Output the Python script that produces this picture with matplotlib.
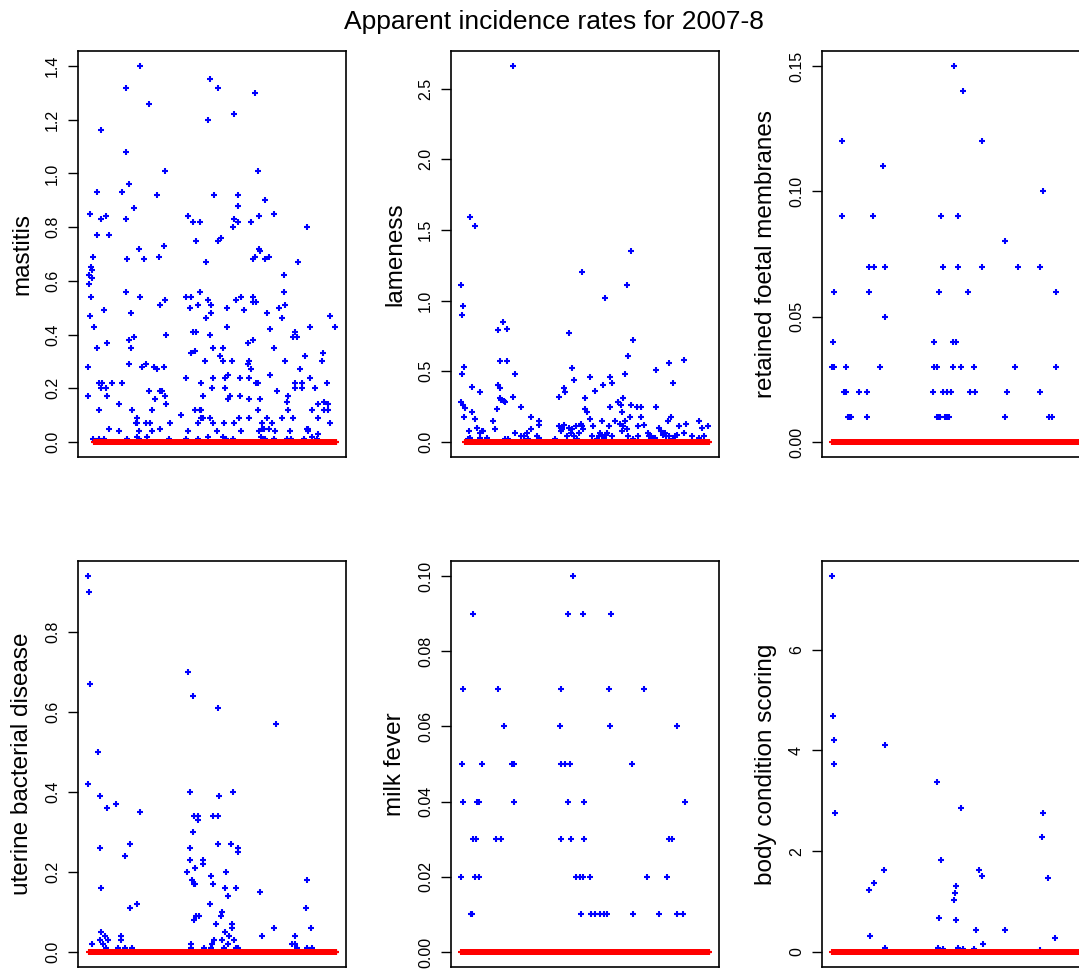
import matplotlib
matplotlib.use("Agg")
import matplotlib.pyplot as plt

plt.rcParams['font.family'] = ['Liberation Sans', 'DejaVu Sans']

# number of herds and (herd, rate) for every non-zero rate; all other herds are 0
n_herds = 500

mastitis = [
    (1, .28), (2, .17), (3, .62), (4, .59), (5, .47), (6, .85), (7, .65), (8, .54), (9, .64), (10, .61),
    (11, .01), (12, .69), (13, .43), (20, .93), (20, .77), (20, .35), (24, .22), (24, .12), (24, .01),
    (27, 1.16), (27, .83), (27, .20), (30, .22), (34, .49), (34, .01), (37, .84), (37, .20), (40, .37),
    (40, .17), (44, .77), (44, .05), (50, .22), (64, .14), (64, .04), (70, .93), (70, .22), (78, 1.32),
    (78, 1.08), (78, .83), (78, .56), (80, .68), (80, .01), (84, .96), (84, .38), (84, .29), (87, .48),
    (87, .35), (90, .12), (94, .87), (94, .39), (97, .07), (100, .09), (100, .07), (100, .02),
    (104, .72), (104, .04), (104, .01), (106, 1.40), (106, .54), (110, .28), (114, .68), (117, .29),
    (117, .07), (120, .02), (123, 1.26), (124, .19), (126, .07), (130, .12), (130, .04), (133, .28),
    (136, .16), (140, .92), (140, .27), (143, .69), (146, .51), (146, .19), (146, .05), (150, .19),
    (153, .73), (153, .28), (156, 1.01), (156, .53), (156, .17), (159, .40), (159, .14), (164, .01),
    (166, .07), (189, .10), (198, .54), (199, .24), (199, .01), (202, .84), (202, .04), (206, .50),
    (208, .54), (208, .33), (212, .82), (212, .41), (216, .34), (216, .12), (219, .75), (219, .41),
    (222, .51), (222, .07), (222, .01), (226, .82), (226, .56), (226, .12), (229, .22), (229, .12),
    (229, .09), (232, .17), (232, .09), (236, .30), (239, .67), (239, .46), (242, 1.20), (242, .53),
    (242, .02), (246, 1.35), (246, .40), (246, .09), (249, .51), (249, .48), (250, .20), (252, .35),
    (252, .24), (252, .07), (255, .92), (260, .04), (262, 1.32), (262, .75), (266, .32), (269, .76),
    (272, .35), (272, .30), (272, .02), (275, .07), (276, .24), (276, .20), (279, .01), (280, .50),
    (280, .43), (282, .25), (282, .16), (286, .17), (290, .30), (292, .80), (292, .01), (295, 1.22),
    (295, .83), (295, .07), (298, .53), (302, .92), (302, .88), (302, .82), (305, .09), (306, .24),
    (306, .17), (308, .54), (308, .04), (315, .49), (322, .37), (322, .29), (325, .30), (325, .24),
    (325, .16), (325, .09), (328, .82), (328, .27), (332, .68), (332, .54), (332, .52), (332, .38),
    (336, 1.30), (336, .69), (338, .52), (338, .22), (342, 1.01), (342, .22), (342, .12), (345, .84),
    (345, .72), (345, .04), (347, .71), (348, .16), (349, .02), (352, .07), (352, .05), (355, .05),
    (358, .90), (358, .68), (358, .01), (362, .48), (362, .09), (365, .69), (365, .05), (367, .25),
    (368, .42), (372, .07), (375, .85), (375, .35), (375, .01), (378, .04), (382, .19), (385, .50),
    (392, .46), (392, .09), (395, .62), (395, .56), (398, .51), (398, .30), (402, .15), (402, .01),
    (404, .17), (404, .12), (408, .04), (410, .01), (414, .39), (414, .09), (418, .41), (418, .22),
    (418, .20), (422, .39), (424, .67), (428, .27), (432, .22), (432, .20), (435, .01), (438, .32),
    (441, .80), (442, .05), (444, .05), (444, .04), (448, .43), (448, .24), (452, .12), (452, .02),
    (457, .20), (462, .01), (464, .14), (464, .09), (464, .03), (471, .30), (474, .33), (476, .15),
    (476, .12), (482, .22), (483, .14), (483, .12), (487, .47), (488, .07), (497, .43),
]

lameness = [
    (1, .28), (2, 1.11), (3, .90), (4, .48), (5, .96), (6, .26), (7, .18), (8, .53), (9, .24),
    (16, .02), (17, .08), (19, 1.59), (19, .03), (23, .39), (23, .21), (29, 1.53), (29, .16), (33, .10),
    (39, .35), (39, .03), (40, .06), (43, .08), (45, .08), (53, .03), (65, .15), (69, .09), (73, .23),
    (75, .79), (75, .40), (79, .57), (79, .38), (79, .31), (82, .30), (85, .85), (87, .29), (89, .28),
    (89, .02), (93, .80), (93, .57), (96, .02), (105, 2.66), (105, .32), (109, .48), (109, .06),
    (122, .25), (122, .04), (127, .04), (133, .06), (135, .02), (141, .18), (141, .09), (154, .04),
    (157, .03), (158, .15), (158, .12), (191, .02), (198, .32), (198, .11), (202, .10), (202, .08),
    (205, .09), (209, .38), (209, .12), (211, .35), (215, .04), (219, .77), (219, .10), (222, .06),
    (224, .52), (225, .09), (229, .44), (229, .04), (233, .11), (235, .02), (239, .06), (243, .13),
    (245, 1.20), (245, .11), (247, .09), (251, .31), (251, .23), (254, .21), (261, .46), (261, .16),
    (264, .04), (267, .11), (271, .36), (275, .02), (279, .04), (281, .06), (285, .15), (285, .04),
    (287, .40), (289, .03), (290, 1.02), (293, .05), (295, .06), (299, .11), (301, .46), (301, .25),
    (305, .42), (305, .04), (310, .15), (317, .28), (321, .13), (323, .26), (324, .21), (325, .08),
    (327, .31), (327, .11), (331, .48), (331, .15), (335, 1.11), (335, .09), (337, .61), (337, .04),
    (340, .18), (343, 1.35), (343, .26), (347, .72), (348, .02), (355, .25), (357, .11), (357, .04),
    (363, .25), (363, .18), (370, .12), (377, .06), (380, .04), (383, .04), (391, .03), (393, .51),
    (393, .25), (400, .10), (404, .08), (407, .05), (411, .06), (413, .04), (417, .15), (420, .56),
    (420, .04), (423, .18), (427, .42), (427, .02), (432, .04), (436, .05), (439, .11), (449, .58),
    (449, .06), (453, .13), (466, .04), (479, .15), (479, .03), (486, .10), (490, .04), (497, .11),
]

retained = [
    (2, .03), (3, .04), (6, .06), (6, .03), (22, .12), (22, .09), (26, .02), (30, .03), (30, .02),
    (33, .01), (35, .01), (37, .01), (39, .01), (56, .02), (71, .02), (71, .01), (76, .07), (76, .06),
    (83, .09), (86, .07), (98, .03), (104, .11), (107, .07), (107, .05), (204, .02), (206, .04),
    (206, .03), (213, .03), (213, .01), (216, .06), (216, .01), (219, .01), (220, .09), (224, .07),
    (224, .02), (229, .01), (232, .02), (233, .01), (237, .01), (240, .02), (244, .03), (245, .04),
    (246, .15), (250, .04), (254, .09), (254, .07), (260, .03), (264, .14), (274, .06), (279, .02),
    (286, .03), (289, .02), (303, .12), (303, .07), (350, .08), (350, .01), (353, .02), (370, .03),
    (376, .07), (419, .07), (419, .02), (426, .10), (437, .01), (443, .01), (452, .06), (452, .03),
]

uterine = [
    (1, .94), (2, .42), (4, .90), (5, .67), (10, .02), (22, .50), (25, .39), (25, .26), (26, .03),
    (28, .16), (28, .05), (31, .02), (35, .04), (38, .01), (39, .36), (42, .03), (58, .37), (61, .01),
    (68, .04), (68, .03), (76, .24), (76, .01), (86, .27), (86, .11), (89, .01), (99, .12), (105, .35),
    (200, .20), (202, .70), (206, .40), (206, .26), (206, .23), (209, .02), (209, .01), (211, .18),
    (212, .64), (212, .30), (214, .17), (214, .08), (215, .34), (217, .21), (217, .17), (218, .09),
    (222, .34), (222, .33), (225, .09), (232, .23), (232, .22), (235, .01), (246, .12), (248, .01),
    (249, .19), (251, .02), (252, .34), (252, .17), (254, .03), (259, .07), (262, .61), (262, .34),
    (262, .27), (265, .39), (268, .09), (271, .10), (271, .03), (275, .01), (276, .16), (277, .05),
    (279, .20), (282, .14), (282, .02), (284, .04), (289, .27), (290, .07), (290, .06), (292, .40),
    (295, .03), (298, .16), (298, .01), (302, .26), (302, .25), (302, .01), (348, .15), (352, .04),
    (375, .06), (379, .57), (412, .02), (418, .04), (418, .02), (422, .01), (439, .11), (441, .01),
    (442, .18), (449, .06), (452, .01),
]

milk_fever = [
    (1, .02), (4, .05), (5, .04), (6, .07), (21, .01), (23, .01), (26, .09), (26, .03), (29, .02),
    (31, .03), (33, .04), (37, .04), (38, .02), (44, .05), (71, .03), (76, .07), (82, .03), (87, .06),
    (103, .05), (107, .05), (108, .04), (200, .06), (202, .05), (203, .07), (203, .03), (210, .05),
    (217, .09), (217, .04), (221, .05), (223, .03), (227, .10), (233, .02), (241, .02), (243, .01),
    (246, .09), (247, .02), (249, .04), (249, .03), (261, .02), (262, .01), (271, .01), (281, .01),
    (288, .01), (294, .01), (299, .07), (300, .06), (303, .09), (346, .05), (347, .01), (370, .07),
    (376, .02), (399, .01), (416, .02), (419, .03), (425, .03), (435, .01), (436, .06), (448, .01),
    (452, .04),
]

body_condition = [
    (2, 7.46), (3, 4.69), (5, 3.73), (6, 4.20), (7, 2.75), (76, 1.23), (77, .31), (86, 1.37),
    (106, 1.62), (107, 4.10), (108, .08), (213, 3.37), (214, .08), (216, .68), (220, 1.82), (224, .05),
    (246, 1.03), (249, 1.17), (250, 1.30), (251, .64), (254, .08), (260, 2.85), (264, .05), (286, .05),
    (290, .44), (297, 1.62), (303, 1.50), (304, .15), (350, .44), (419, .03), (423, 2.29), (426, 2.75),
    (436, 1.47), (449, .28),
]

labels = ['mastitis', 'lameness', 'retained foetal membranes',
          'uterine bacterial disease', 'milk fever', 'body condition scoring']
series = [mastitis, lameness, retained, uterine, milk_fever, body_condition]
yticks = [[0.0, 0.2, 0.4, 0.6, 0.8, 1.0, 1.2, 1.4],
          [0.0, 0.5, 1.0, 1.5, 2.0, 2.5],
          [0.00, 0.05, 0.10, 0.15],
          [0.0, 0.2, 0.4, 0.6, 0.8],
          [0.00, 0.02, 0.04, 0.06, 0.08, 0.10],
          [0, 2, 4, 6]]
ytick_fmt = ['%.1f', '%.1f', '%.2f', '%.1f', '%.2f', '%d']

W, H = 1079, 969
fig = plt.figure(figsize=(W / 100, H / 100), dpi=100)

lefts = [78, 451, 822]
tops = [51, 561]
aw, ah = 268, 406

for k in range(6):
    r, c = divmod(k, 3)
    ax = fig.add_axes([lefts[c] / W, 1 - (tops[r] + ah) / H, aw / W, ah / H])
    pts = series[k]
    xs = [p[0] for p in pts]
    ys = [p[1] for p in pts]
    nz = set(xs)
    zeros = [h for h in range(1, n_herds + 1) if h not in nz]
    ax.plot(xs, ys, '+', color='blue', ms=4.8, mew=1.5)
    ax.plot(zeros, [0] * len(zeros), '+', color='red', ms=4.8, mew=1.5)

    # R style 4% padding
    ext = 0.04 * (n_herds - 1)
    ax.set_xlim(1 - ext, n_herds + ext)
    ymax = max(ys)
    ax.set_ylim(-0.04 * ymax, ymax * 1.04)

    ax.set_xticks([])
    ax.set_yticks(yticks[k])
    ax.set_yticklabels([ytick_fmt[k] % t for t in yticks[k]], rotation=90, va='center',
                       fontsize=11.5)
    ax.tick_params(axis='y', length=7, width=1, pad=6)
    for s in ax.spines.values():
        s.set_linewidth(1.2)
    ax.set_ylabel(labels[k], fontsize=17.5)
    ax.yaxis.set_label_coords(-45 / aw, 0.5)

fig.text(554 / W, 1 - 22 / H, 'Apparent incidence rates for 2007-8', ha='center', va='center',
         fontsize=19)

fig.savefig('out.png', dpi=100)
